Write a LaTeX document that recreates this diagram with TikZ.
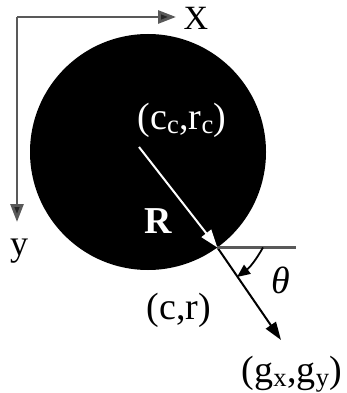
\documentclass[tikz,border=0pt]{standalone}
\usepackage{fontspec}
\setmainfont{Liberation Serif}
\usetikzlibrary{arrows.meta}
\begin{document}
\begin{tikzpicture}[x=1pt,y=-1pt,
	axis/.style={line width=2.8pt, draw=black!65, -{Triangle[length=18pt,width=13pt,fill=black!85]}},
	gradwhite/.style={line width=2pt, draw=white, -{Triangle[length=18pt,width=12pt]}},
	gradblack/.style={line width=2pt, draw=black, -{Triangle[length=18pt,width=12pt]}},
	lbl/.style={inner sep=0pt, font=\fontsize{38}{42}\selectfont}]
	\useasboundingbox (0,0) rectangle (346,393);
	
	% axes
	\coordinate (origin) at (17,17);
	\coordinate (xend) at (176,17);
	\coordinate (yend) at (17,222);
	\draw[axis] (origin) -- (xend);
	\draw[axis] (origin) -- (yend);
	\node[lbl, font=\fontsize{34}{38}\selectfont] (xlabel) at (196,18) {X};
	\node[lbl, font=\fontsize{36}{40}\selectfont] (ylabel) at (19,251) {y};
	
	% the disk
	\fill (148,152) circle[radius=118];
	
	% point where the gradient leaves the disk
	\pgfmathsetmacro\edgeX{148 + cos(54) * 118} % 54 degrees below
	\pgfmathsetmacro\edgeY{152 + sin(54) * 118}
	\coordinate (edge) at (\edgeX, \edgeY);
	\coordinate (start) at (139,147);
	\coordinate (grad) at (281,340);
	\coordinate (hend) at (296,0);
	
	\draw[gradwhite] (start) -- (edge);
	\draw[gradblack] (edge) -- (grad);
	\draw[line width=2.6pt, draw=black!65] (edge) -- (edge -| hend);
	
	\coordinate (thetaA) at (263,\edgeY);
	\coordinate (thetaB) at (237,277);
	\draw[line width=1.8pt, -{Triangle[length=13pt,width=11pt]}] (thetaA) to[bend left=12] (thetaB);
	
	\node[lbl, text=white] (centre) at (182,120) {(c\textsubscript{c},r\textsubscript{c})};
	\node[lbl, text=white, font=\fontsize{38}{42}\selectfont\bfseries] (radius) at (158,221) {R};
	\node[lbl] (point) at (179,310) {(c,r)};
	\node[lbl] (theta) at (281,280) {\textit{θ}};
	\node[lbl] (gradient) at (292,374) {(g\textsubscript{x},g\textsubscript{y})};
\end{tikzpicture}
\end{document}
